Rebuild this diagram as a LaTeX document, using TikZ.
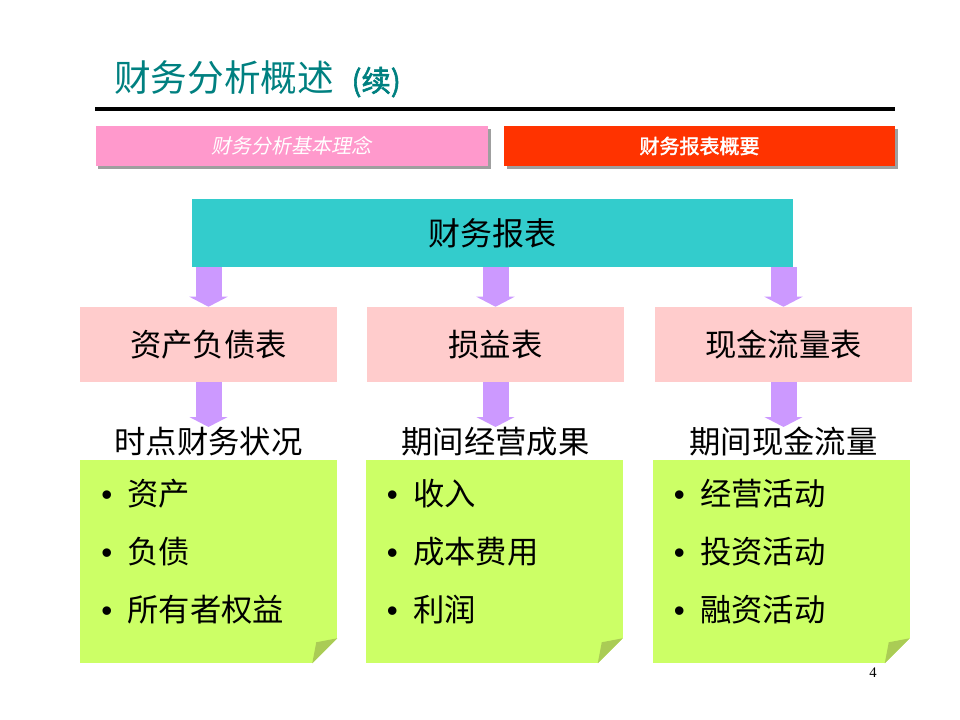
\documentclass[tikz,border=0pt]{standalone}
\usepackage{fontspec}
\setmainfont{Liberation Serif}
\newfontfamily\cjk{Noto Sans CJK SC}
\newfontfamily\cjkslant[FakeSlant=0.2]{Noto Sans CJK SC}
\newfontfamily\cjkbold[FakeBold=2]{Noto Sans CJK SC}
\newfontfamily\bulletfont{Liberation Sans}
\usetikzlibrary{positioning,arrows.meta}
\definecolor{titleteal}{RGB}{0,128,128}
\definecolor{tabpink}{RGB}{255,153,204}
\definecolor{tabred}{RGB}{255,51,0}
\definecolor{headteal}{RGB}{51,204,204}
\definecolor{boxpink}{RGB}{255,204,204}
\definecolor{notegreen}{RGB}{204,255,102}
\definecolor{foldgreen}{RGB}{170,204,85}
\definecolor{arrowpurple}{RGB}{204,153,255}
\newcommand\bigtxt{\fontsize{23.5}{28}\selectfont\cjk}
\newcommand\bul[1]{{\bulletfont •}\hspace{11.5pt}#1}

\begin{document}
\begin{tikzpicture}[x=0.75pt,y=-0.75pt,
  tab/.style={minimum width=294pt,minimum height=30pt,inner sep=0pt,text=white},
  statement/.style={fill=boxpink,minimum width=192.75pt,minimum height=56.25pt,inner sep=0pt},
  note/.style={fill=notegreen,minimum width=192.75pt,minimum height=152.25pt,inner sep=0pt},
  bigarrow/.style={draw=arrowpurple,line width=19.5pt,-{Triangle[width=28.5pt,length=7.5pt]}},
  item/.style={anchor=west,inner sep=0pt}]
  \useasboundingbox (0,0) rectangle (960,720);
  % title and rule
  \node[anchor=west,text=titleteal,inner sep=0pt] (title) at (114,79)
    {\fontsize{27.5}{32}\cjk 财务分析概述\hspace{13pt}{\fontsize{22}{26}\cjkbold (续)}};
  \draw[line width=3pt] (95,109.5) -- (895,109.5);
  % tabs
  \fill[gray!75] (98,129) rectangle (491,169);
  \node[tab,fill=tabpink] (basic) at (291.5,146) {\fontsize{15}{17}\cjkslant 财务分析基本理念};
  \fill[gray!75] (507,129) rectangle (898,169);
  \node[tab,fill=tabred,minimum width=293.25pt] (overview) at (699.5,146) {\fontsize{15}{17}\cjkbold 财务报表概要};
  % main statements
  \node[fill=headteal,minimum width=450.75pt,minimum height=51pt,inner sep=0pt] (reports) at (492.5,233) {\fontsize{24}{28}\cjk 财务报表};
  \node[statement] (balance) at (208.5,344.5) {\bigtxt 资产负债表};
  \node[statement] (income) at (495.5,344.5) {\bigtxt 损益表};
  \node[statement] (cash) at (783.5,344.5) {\bigtxt 现金流量表};
  \node (balsub) at (208.5,442) {\bigtxt 时点财务状况};
  \node (incsub) at (495.5,442) {\bigtxt 期间经营成果};
  \node (cashsub) at (783.5,442) {\bigtxt 期间现金流量};
  \coordinate (baltip) at (208.5,427);
  \coordinate (inctip) at (495.5,427);
  \coordinate (cashtip) at (783.5,427);
  % arrows
  \draw[bigarrow] (reports.south -| balance) -- (balance.north);
  \draw[bigarrow] (reports.south -| income) -- (income.north);
  \draw[bigarrow] (reports.south -| cash) -- (cash.north);
  \draw[bigarrow] (balance.south) -- (baltip);
  \draw[bigarrow] (income.south) -- (inctip);
  \draw[bigarrow] (cash.south) -- (cashtip);
  % notes with folded corner
  \foreach \n/\x in {balnote/208.5,incnote/494,cashnote/781}{
    \node[note] (\n) at (\x,561.5) {};
    \fill[white] (\n.south east) -- ++(-25,0) -- ++(25,-25) -- cycle;
    \fill[foldgreen] (\n.south east) ++(-25,0) -- ++(4,-21) -- ++(21,-4) -- cycle;
  }
  \node[item] (asset) at ([xshift=16]balnote.north west |- 0,494) {\bigtxt \bul{资产}};
  \node[item] (debt) at ([xshift=16]balnote.north west |- 0,552) {\bigtxt \bul{负债}};
  \node[item] (equity) at ([xshift=16]balnote.north west |- 0,610) {\bigtxt \bul{所有者权益}};
  \node[item] (revenue) at ([xshift=16]incnote.north west |- 0,494) {\bigtxt \bul{收入}};
  \node[item] (cost) at ([xshift=16]incnote.north west |- 0,552) {\bigtxt \bul{成本费用}};
  \node[item] (profit) at ([xshift=16]incnote.north west |- 0,610) {\bigtxt \bul{利润}};
  \node[item] (operating) at ([xshift=16]cashnote.north west |- 0,494) {\bigtxt \bul{经营活动}};
  \node[item] (investing) at ([xshift=16]cashnote.north west |- 0,552) {\bigtxt \bul{投资活动}};
  \node[item] (financing) at ([xshift=16]cashnote.north west |- 0,610) {\bigtxt \bul{融资活动}};
  % page number
  \node (page) at (873,673) {\fontsize{11}{13}\selectfont 4};
\end{tikzpicture}
\end{document}
